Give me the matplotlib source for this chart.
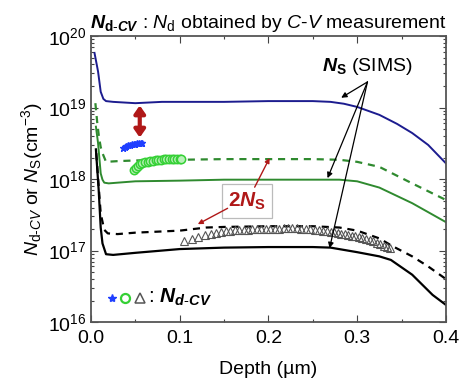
import numpy as np
import matplotlib
matplotlib.use("Agg")
import matplotlib.pyplot as plt
from matplotlib.ticker import LogLocator, MultipleLocator, NullFormatter

plt.rcParams["font.family"] = ["Liberation Sans", "DejaVu Sans"]
plt.rcParams["mathtext.fontset"] = "custom"
plt.rcParams["mathtext.rm"] = "Liberation Sans"
plt.rcParams["mathtext.it"] = "Liberation Sans:italic"
plt.rcParams["mathtext.bf"] = "Liberation Sans:bold"
plt.rcParams["mathtext.bfit"] = "Liberation Sans:bold:italic"

# ----------------------------------------------------------
# SIMS profiles (N_S) and 2N_S, depth in um
# ----------------------------------------------------------

ns1_x = [0.004, 0.008, 0.011, 0.014, 0.017, 0.025, 0.05, 0.08, 0.1, 0.15,
         0.2, 0.25, 0.27, 0.285, 0.3, 0.325, 0.345, 0.362, 0.38, 0.4]
ns1_y = [5.8e19, 3.2e19, 1.66e19, 1.32e19, 1.23e19, 1.2e19, 1.15e19, 1.2e19,
         1.2e19, 1.2e19, 1.23e19, 1.23e19, 1.2e19, 1.13e19, 1.02e19, 7.9e18,
         5.9e18, 4.4e18, 3.0e18, 1.66e18]

ns2_x = [0.0056, 0.008, 0.009, 0.011, 0.013, 0.015, 0.02, 0.03, 0.05, 0.1,
         0.15, 0.2, 0.25, 0.28, 0.3, 0.325, 0.362, 0.4]
ns2_y = [5.4e18, 3.2e18, 2.3e18, 1.2e18, 9.8e17, 8.9e17, 8.7e17, 8.9e17,
         9.3e17, 9.5e17, 9.8e17, 9.8e17, 9.8e17, 9.8e17, 9.3e17, 7.6e17,
         4.6e17, 2.5e17]

two_ns2_x = [0.005, 0.007, 0.009, 0.011, 0.013, 0.017, 0.03, 0.05, 0.1, 0.15,
             0.2, 0.25, 0.28, 0.3, 0.325, 0.362, 0.4]
two_ns2_y = [1.15e19, 6.3e18, 3.9e18, 2.8e18, 2.3e18, 1.74e18, 1.78e18,
             1.82e18, 1.86e18, 1.9e18, 1.9e18, 1.9e18, 1.86e18, 1.74e18,
             1.48e18, 8.7e17, 5.1e17]

ns3_x = [0.0056, 0.0087, 0.011, 0.013, 0.017, 0.025, 0.05, 0.1, 0.15, 0.2,
         0.25, 0.27, 0.3, 0.325, 0.338, 0.362, 0.385, 0.4]
ns3_y = [2.6e18, 7.1e17, 2.1e17, 1.26e17, 8.9e16, 8.7e16, 9.3e16, 1.05e17,
         1.1e17, 1.12e17, 1.12e17, 1.1e17, 9.5e16, 8.3e16, 7.4e16, 4.6e16,
         2.4e16, 1.74e16]

two_ns3_x = [0.006, 0.009, 0.011, 0.015, 0.019, 0.03, 0.05, 0.1, 0.13, 0.15,
             0.2, 0.25, 0.28, 0.3, 0.325, 0.34, 0.362, 0.38, 0.4]
two_ns3_y = [2.3e18, 7.1e17, 3.3e17, 1.95e17, 1.74e17, 1.7e17, 1.78e17,
             1.9e17, 2.1e17, 2.14e17, 2.19e17, 2.19e17, 2.1e17, 1.9e17,
             1.48e17, 1.15e17, 8.3e16, 6.0e16, 4.0e16]

# ----------------------------------------------------------
# C-V profiles (N_d-CV)
# ----------------------------------------------------------

star_x = [0.036, 0.038, 0.040, 0.042, 0.044, 0.046, 0.048, 0.050, 0.052,
          0.054, 0.056, 0.058]
star_y = [2.75e18, 2.85e18, 2.92e18, 2.98e18, 3.03e18, 3.07e18, 3.10e18,
          3.13e18, 3.16e18, 3.18e18, 3.20e18, 3.22e18]

circ_x = [0.049, 0.051, 0.053, 0.055, 0.058, 0.061, 0.064, 0.067, 0.070,
          0.073, 0.076, 0.079, 0.082, 0.085, 0.088, 0.091, 0.094, 0.097,
          0.100, 0.102]
circ_y = [1.35e18, 1.45e18, 1.53e18, 1.60e18, 1.66e18, 1.71e18, 1.75e18,
          1.78e18, 1.81e18, 1.83e18, 1.85e18, 1.87e18, 1.88e18, 1.89e18,
          1.90e18, 1.91e18, 1.92e18, 1.92e18, 1.93e18, 1.93e18]

tri_x = [0.105, 0.114, 0.121, 0.128, 0.135, 0.141, 0.147, 0.152, 0.157,
         0.162, 0.167, 0.172, 0.177, 0.182, 0.187, 0.192, 0.197, 0.202,
         0.207, 0.212, 0.217, 0.222, 0.227, 0.232, 0.237, 0.242, 0.247,
         0.252, 0.257, 0.262, 0.266, 0.270, 0.274, 0.278, 0.282, 0.286,
         0.290, 0.294, 0.298, 0.302, 0.306, 0.310, 0.314, 0.318, 0.322,
         0.326, 0.330, 0.334, 0.337]
tri_y = [1.35e17, 1.47e17, 1.56e17, 1.64e17, 1.71e17, 1.77e17, 1.82e17,
         1.86e17, 1.89e17, 1.92e17, 1.94e17, 1.96e17, 1.97e17, 1.98e17,
         1.99e17, 2.00e17, 2.01e17, 2.02e17, 2.03e17, 2.03e17, 2.04e17,
         2.04e17, 2.04e17, 2.04e17, 2.03e17, 2.01e17, 1.99e17, 1.97e17,
         1.94e17, 1.90e17, 1.87e17, 1.83e17, 1.79e17, 1.75e17, 1.71e17,
         1.68e17, 1.65e17, 1.62e17, 1.58e17, 1.54e17, 1.50e17, 1.45e17,
         1.40e17, 1.34e17, 1.28e17, 1.22e17, 1.16e17, 1.11e17, 1.07e17]

# ----------------------------------------------------------
# Colours
# ----------------------------------------------------------

NAVY = "#1c1c8f"
GREEN = "#2f8a2f"
LIGHT_GREEN = "#35d035"
STAR_BLUE = "#1f3fff"
DARK_RED = "#b01818"

# ==========================================================
# Plot
# ==========================================================

fig = plt.figure(figsize=(4.64, 3.83), dpi=100)
ax = fig.add_axes([0.196, 0.159, 0.765, 0.747])

ax.plot(ns1_x, ns1_y, color=NAVY, lw=1.4)
ax.plot(two_ns2_x, two_ns2_y, color=GREEN, lw=1.6, ls=(0, (3.2, 2.6)))
ax.plot(ns2_x, ns2_y, color=GREEN, lw=1.4)
ax.plot(two_ns3_x, two_ns3_y, color="black", lw=1.6, ls=(0, (3.2, 2.6)))
ax.plot(ns3_x, ns3_y, color="black", lw=1.6)

ax.plot(star_x, star_y, ls="none", marker="*", ms=5, color=STAR_BLUE,
        mec=STAR_BLUE)
ax.plot(circ_x, circ_y, ls="none", marker="o", ms=6, mfc="#b8f0b8",
        mec=LIGHT_GREEN, mew=1.1)
ax.plot(tri_x, tri_y, ls="none", marker="^", ms=6, mfc="none",
        mec="#555555", mew=0.8)

# ----------------------------------------------------------
# Axes
# ----------------------------------------------------------

ax.set_yscale("log")
ax.set_xlim(0, 0.4)
ax.set_ylim(1e16, 1e20)

ax.xaxis.set_major_locator(MultipleLocator(0.1))
ax.xaxis.set_minor_locator(MultipleLocator(0.05))
ax.yaxis.set_major_locator(LogLocator(base=10, numticks=10))
ax.yaxis.set_minor_locator(LogLocator(base=10, subs=np.arange(2, 10),
                                      numticks=10))
ax.yaxis.set_minor_formatter(NullFormatter())

ax.tick_params(which="both", direction="in", top=True, right=True,
               labelsize=14, width=0.8, color="#444444")
ax.tick_params(which="major", length=5)
ax.tick_params(which="minor", length=2.5)
ax.tick_params(axis="x", pad=6)

for spine in ax.spines.values():
    spine.set_linewidth(1.3)
    spine.set_color("#555555")

ax.set_xlabel("Depth (\u00b5m)", fontsize=14, labelpad=10)
ax.set_ylabel(r"$N_{\mathrm{d}\text{-}CV}$ or $N_{\mathrm{S}}$(cm$^{-3}$)",
              fontsize=14, labelpad=2)
ax.set_title(r"$\mathbfit{N}_{\mathbf{d}\text{-}\mathbfit{CV}}$ : "
             r"$N_{\mathrm{d}}$ obtained by $C$-$V$ measurement",
             fontsize=14, pad=6)

# ----------------------------------------------------------
# Annotations
# ----------------------------------------------------------

ax.annotate("", xy=(0.055, 3.8e18), xytext=(0.055, 1.07e19),
            arrowprops=dict(arrowstyle="<|-|>,head_length=0.5,head_width=0.35",
                            color=DARK_RED, lw=3.0,
                            mutation_scale=9, shrinkA=0, shrinkB=0))

ax.text(0.312, 3.8e19, r"$\mathbfit{N}_{\mathbf{S}}$ (SIMS)", fontsize=14,
        ha="center", va="center")
for tx, ty in [(0.282, 1.37e19), (0.2666, 1.03e18), (0.2689, 1.08e17)]:
    ax.annotate("", xy=(tx, ty), xytext=(0.3116, 2.28e19),
                arrowprops=dict(arrowstyle="-|>", color="black", lw=0.9,
                                mutation_scale=8, shrinkA=0, shrinkB=0))

ax.text(0.176, 4.9e17, r"$\mathbf{2}\mathbfit{N}_{\mathbf{S}}$", fontsize=15,
        color=DARK_RED, ha="center", va="center",
        bbox=dict(boxstyle="square,pad=0.3", fc="white", ec="#bbbbbb",
                  lw=0.9))
ax.annotate("", xy=(0.2013, 1.97e18), xytext=(0.1845, 7.7e17),
            arrowprops=dict(arrowstyle="-|>", color=DARK_RED, lw=1.0,
                            mutation_scale=7, shrinkA=0, shrinkB=0))
ax.annotate("", xy=(0.1204, 2.34e17), xytext=(0.154, 3.9e17),
            arrowprops=dict(arrowstyle="-|>", color=DARK_RED, lw=1.0,
                            mutation_scale=7, shrinkA=0, shrinkB=0))

# marker key in the lower left corner
ax.plot([0.0233], [2.2e16], ls="none", marker="*", ms=6, color=STAR_BLUE)
ax.plot([0.0385], [2.2e16], ls="none", marker="o", ms=6.5, mfc="none",
        mec=LIGHT_GREEN, mew=1.6)
ax.plot([0.055], [2.2e16], ls="none", marker="^", ms=6.5, mfc="none",
        mec="#555555", mew=1.1)
ax.text(0.064, 2.2e16, r": $\mathbfit{N}_{\mathbfit{d\text{-}CV}}$",
        fontsize=15, ha="left", va="center")

fig.savefig("out.png", dpi=100)
